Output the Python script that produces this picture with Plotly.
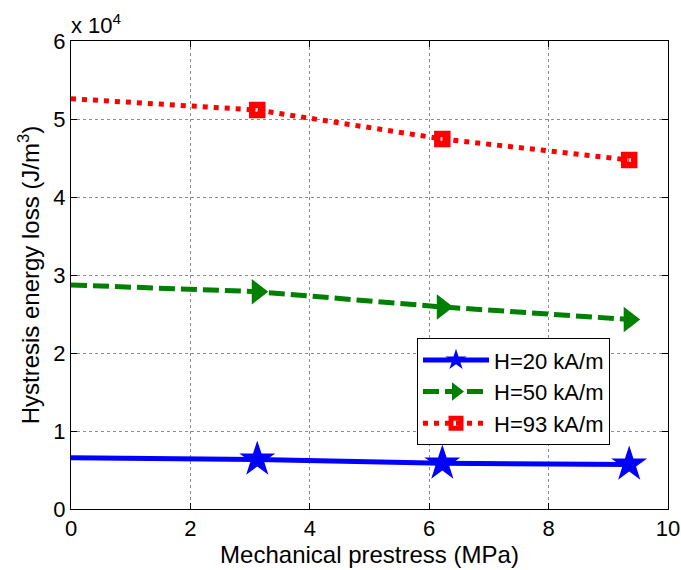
import plotly.graph_objects as go

# Hysteresis energy loss versus mechanical prestress for three field levels
prestress = [0, 3.12, 6.22, 9.35]          # MPa
loss_h20 = [6580, 6360, 5850, 5720]        # J/m^3
loss_h50 = [28720, 27860, 25900, 24300]
loss_h93 = [52600, 51150, 47440, 44750]

series_names = ["H=20 kA/m", "H=50 kA/m", "H=93 kA/m"]
y_ticks = [0, 10000, 20000, 30000, 40000, 50000, 60000]
y_tick_text = ["0", "1", "2", "3", "4", "5", "6"]
x_ticks = [0, 2, 4, 6, 8, 10]

FONT = "Liberation Sans, Arial, Helvetica, sans-serif"
marked = [1, 2, 3]  # the first point is drawn without a marker

fig = go.Figure()
fig.add_trace(go.Scatter(
    x=prestress, y=loss_h20, name=series_names[0], mode="lines+markers",
    line=dict(color="#0000ff", width=5),
    marker=dict(symbol="star", size=27, color="#0000ff", line=dict(width=0)),
    selectedpoints=marked, unselected=dict(marker=dict(opacity=0)),
))
fig.add_trace(go.Scatter(
    x=prestress, y=loss_h50, name=series_names[1], mode="lines+markers",
    line=dict(color="#008000", width=5, dash="16px,6px"),
    marker=dict(symbol="triangle-right", size=22, color="#008000", line=dict(width=0)),
    selectedpoints=marked, unselected=dict(marker=dict(opacity=0)),
))
fig.add_trace(go.Scatter(
    x=prestress, y=loss_h93, name=series_names[2], mode="lines+markers",
    line=dict(color="#ff0000", width=5, dash="5px,6px"),
    marker=dict(symbol="square-open", size=10, color="#ff0000", line=dict(width=6.5, color="#ff0000")),
    selectedpoints=marked, unselected=dict(marker=dict(opacity=0)),
))

axis_common = dict(
    showline=True, linecolor="black", linewidth=1, mirror="ticks",
    ticks="inside", ticklen=6, tickcolor="black", tickwidth=1,
    showgrid=True, gridcolor="#8c8c8c", gridwidth=1, griddash="dot",
    zeroline=False, automargin=False,
    tickfont=dict(family=FONT, size=22, color="black"),
)

fig.update_xaxes(
    range=[0, 10], tickvals=x_ticks,
    title=dict(text="Mechanical prestress (MPa)", font=dict(family=FONT, size=24, color="black"), standoff=4),
    **axis_common,
)
fig.update_yaxes(
    range=[0, 60000], tickvals=y_ticks, ticktext=y_tick_text,
    title=dict(text="Hystresis energy loss (J/m<sup>3</sup>)", font=dict(family=FONT, size=24, color="black"), standoff=6),
    **axis_common,
)

fig.add_annotation(
    text="x 10<sup>4</sup>", xref="paper", yref="paper", x=0, y=1,
    xanchor="left", yanchor="bottom", showarrow=False, xshift=-2, yshift=1,
    font=dict(family=FONT, size=22, color="black"),
)

fig.update_layout(
    width=681, height=570,
    margin=dict(l=71, r=13, t=41, b=61),
    paper_bgcolor="white", plot_bgcolor="white",
    showlegend=True,
    legend=dict(
        x=0.5796, y=0.365, xanchor="left", yanchor="top",
        bgcolor="white", bordercolor="black", borderwidth=1,
        font=dict(family=FONT, size=22, color="black"),
        itemwidth=66, tracegroupgap=0,
    ),
)

fig.write_html("out.html")
